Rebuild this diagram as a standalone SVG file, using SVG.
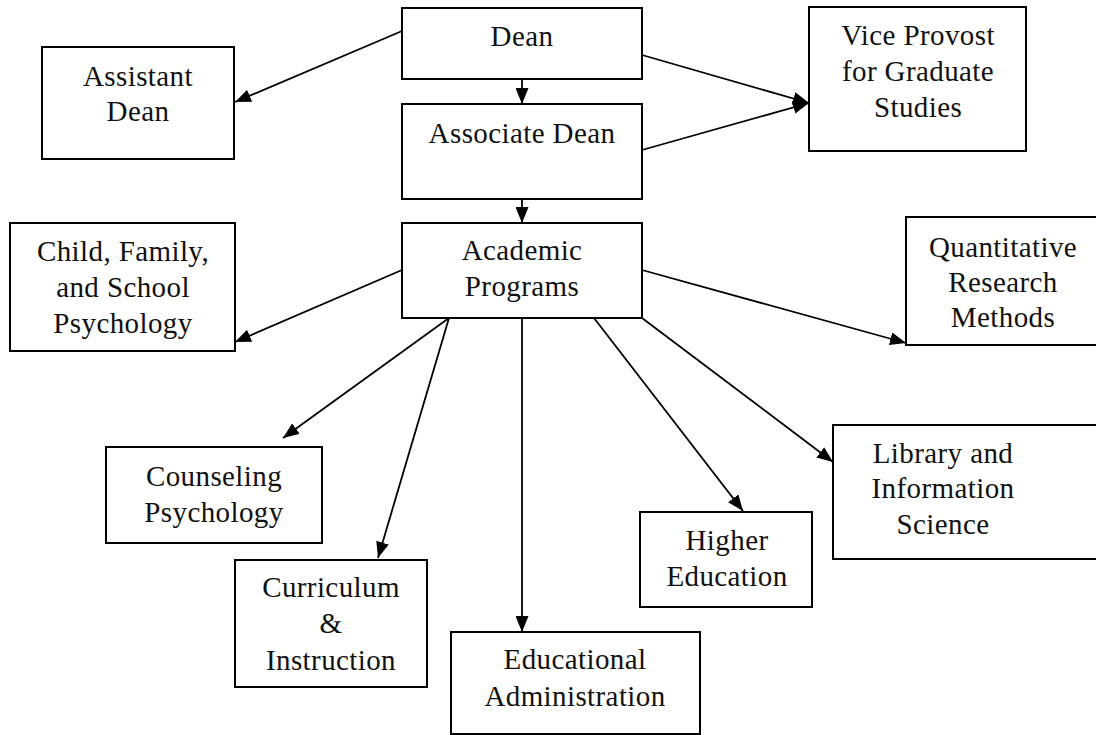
<svg xmlns="http://www.w3.org/2000/svg" width="1096" height="735" viewBox="0 0 1096 735">
<defs>
<style>
.box{fill:#fff;stroke:#000;stroke-width:2}
.lbl{font-family:"Liberation Serif","Times New Roman",serif;font-size:29px;fill:#111;text-anchor:middle;letter-spacing:0.4px}
.cn{stroke:#000;stroke-width:1.8;fill:none;marker-end:url(#ah)}
</style>
<marker id="ah" markerUnits="userSpaceOnUse" markerWidth="16" markerHeight="13" viewBox="0 0 16 13" refX="16" refY="6.5" orient="auto">
<path d="M0,0 L16,6.5 L0,13 Z" fill="#000"/>
</marker>
</defs>
<rect width="1096" height="735" fill="#fff"/>
<g id="connectors">
<line class="cn" x1="402" y1="31" x2="235" y2="102"/>
<line class="cn" x1="642" y1="55" x2="809" y2="103"/>
<line class="cn" x1="642" y1="150" x2="809" y2="103"/>
<line class="cn" x1="522" y1="79" x2="522" y2="104"/>
<line class="cn" x1="522" y1="199" x2="522" y2="223"/>
<line class="cn" x1="402" y1="270" x2="235" y2="342"/>
<line class="cn" x1="642" y1="270" x2="906" y2="343"/>
<line class="cn" x1="449" y1="318" x2="283" y2="438"/>
<line class="cn" x1="449" y1="318" x2="378" y2="558"/>
<line class="cn" x1="522" y1="318" x2="522" y2="632"/>
<line class="cn" x1="594" y1="318" x2="743" y2="511"/>
<line class="cn" x1="642" y1="318" x2="833" y2="462"/>
</g>
<g id="dean"><rect class="box" x="402" y="8" width="240" height="71"/><text class="lbl" x="522" y="46">Dean</text></g>
<g id="assistant-dean"><rect class="box" x="42" y="47" width="192" height="112"/><text class="lbl" x="138" y="86">Assistant</text><text class="lbl" x="138" y="121">Dean</text></g>
<g id="associate-dean"><rect class="box" x="402" y="104" width="240" height="95"/><text class="lbl" x="522" y="143">Associate Dean</text></g>
<g id="vice-provost"><rect class="box" x="809" y="7" width="217" height="144"/><text class="lbl" x="918" y="45">Vice Provost</text><text class="lbl" x="918" y="81">for Graduate</text><text class="lbl" x="918" y="117">Studies</text></g>
<g id="academic-programs"><rect class="box" x="402" y="223" width="240" height="95"/><text class="lbl" x="522" y="260">Academic</text><text class="lbl" x="522" y="296">Programs</text></g>
<g id="child-family"><rect class="box" x="10" y="223" width="225" height="128"/><text class="lbl" x="123" y="261">Child, Family,</text><text class="lbl" x="123" y="297">and School</text><text class="lbl" x="123" y="333">Psychology</text></g>
<g id="quantitative"><rect class="box" x="906" y="217" width="200" height="128"/><text class="lbl" x="1003" y="257">Quantitative</text><text class="lbl" x="1003" y="292">Research</text><text class="lbl" x="1003" y="327">Methods</text></g>
<g id="counseling"><rect class="box" x="106" y="447" width="216" height="96"/><text class="lbl" x="214" y="486">Counseling</text><text class="lbl" x="214" y="522">Psychology</text></g>
<g id="curriculum"><rect class="box" x="235" y="560" width="192" height="127"/><text class="lbl" x="331" y="597">Curriculum</text><text class="lbl" x="331" y="633">&amp;</text><text class="lbl" x="331" y="670">Instruction</text></g>
<g id="educational-admin"><rect class="box" x="451" y="632" width="249" height="102"/><text class="lbl" x="575" y="669">Educational</text><text class="lbl" x="575" y="706">Administration</text></g>
<g id="higher-ed"><rect class="box" x="640" y="512" width="172" height="95"/><text class="lbl" x="727" y="550">Higher</text><text class="lbl" x="727" y="586">Education</text></g>
<g id="library"><rect class="box" x="833" y="425" width="270" height="134"/><text class="lbl" x="943" y="463">Library and</text><text class="lbl" x="943" y="498">Information</text><text class="lbl" x="943" y="534">Science</text></g>
</svg>
